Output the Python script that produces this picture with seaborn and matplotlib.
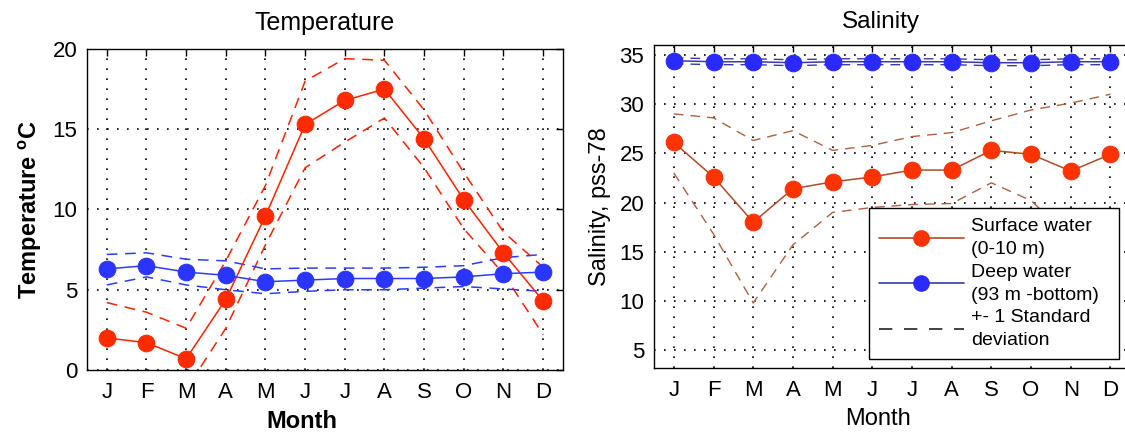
import numpy as np
import pandas as pd
import seaborn as sns
import matplotlib
matplotlib.use('Agg')
import matplotlib.pyplot as plt
from matplotlib.lines import Line2D

# Monthly means and +-1 std lines
months = ['J', 'F', 'M', 'A', 'M', 'J', 'J', 'A', 'S', 'O', 'N', 'D']
month_no = list(range(1, 13))

temp_surface = [2.0, 1.7, 0.7, 4.4, 9.6, 15.3, 16.8, 17.5, 14.4, 10.6, 7.3, 4.3]
temp_surface_hi = [4.2, 3.6, 2.6, 6.8, 11.5, 18.0, 19.4, 19.3, 16.2, 12.3, 8.6, 6.4]
temp_surface_lo = [-0.2, -0.1, -1.2, 2.6, 7.8, 12.6, 14.2, 15.7, 12.6, 8.8, 6.0, 2.2]

temp_deep = [6.3, 6.5, 6.1, 5.9, 5.5, 5.6, 5.7, 5.7, 5.7, 5.8, 6.0, 6.1]
temp_deep_hi = [7.2, 7.3, 6.9, 6.8, 6.3, 6.35, 6.35, 6.35, 6.4, 6.5, 7.0, 7.2]
temp_deep_lo = [5.3, 5.8, 5.3, 5.0, 4.75, 4.9, 5.0, 5.0, 5.1, 5.2, 5.05, 4.9]

sal_surface = [26.1, 22.6, 18.0, 21.4, 22.1, 22.6, 23.3, 23.3, 25.3, 24.9, 23.2, 24.9]
sal_surface_hi = [29.0, 28.6, 26.3, 27.3, 25.3, 25.8, 26.7, 27.1, 28.3, 29.4, 30.1, 31.0]
sal_surface_lo = [23.0, 16.8, 9.8, 15.7, 19.0, 19.5, 19.8, 19.9, 22.0, 20.2, 16.4, 18.8]

sal_deep = [34.4, 34.3, 34.3, 34.2, 34.3, 34.3, 34.3, 34.3, 34.2, 34.2, 34.3, 34.3]
sal_deep_hi = [34.7, 34.6, 34.6, 34.5, 34.6, 34.6, 34.6, 34.6, 34.5, 34.5, 34.6, 34.6]
sal_deep_lo = [34.1, 34.0, 34.0, 33.9, 34.0, 34.0, 34.0, 34.0, 33.9, 33.9, 34.0, 34.0]

df_temp = pd.DataFrame({'month': month_no,
                        'surface': temp_surface, 'surface_hi': temp_surface_hi, 'surface_lo': temp_surface_lo,
                        'deep': temp_deep, 'deep_hi': temp_deep_hi, 'deep_lo': temp_deep_lo})
df_sal = pd.DataFrame({'month': month_no,
                       'surface': sal_surface, 'surface_hi': sal_surface_hi, 'surface_lo': sal_surface_lo,
                       'deep': sal_deep, 'deep_hi': sal_deep_hi, 'deep_lo': sal_deep_lo})

sns.set_style('white', rc={'text.color': 'black', 'axes.labelcolor': 'black',
                           'xtick.color': 'black', 'ytick.color': 'black',
                           'axes.edgecolor': 'black'})
plt.rcParams['font.family'] = ['Liberation Sans', 'DejaVu Sans']
plt.rcParams['mathtext.fontset'] = 'custom'
plt.rcParams['mathtext.rm'] = 'Liberation Sans'
plt.rcParams['mathtext.bf'] = 'Liberation Sans:bold'

fig = plt.figure(figsize=(11.25, 4.36), dpi=100)
ax1 = fig.add_axes([0.0773, 0.1514, 0.4231, 0.7362])
ax2 = fig.add_axes([0.5813, 0.156, 0.4587, 0.7408])

dash = (0, (7, 5))
msize = 12

# Temperature
red, blue = '#ff2200', '#2a3cff'
for col in ['surface_hi', 'surface_lo']:
    sns.lineplot(data=df_temp, x='month', y=col, ax=ax1, color=red, lw=1.1, linestyle=dash)
for col in ['deep_hi', 'deep_lo']:
    sns.lineplot(data=df_temp, x='month', y=col, ax=ax1, color=blue, lw=1.1, linestyle=dash)
sns.lineplot(data=df_temp, x='month', y='surface', ax=ax1, color=red, lw=1.1,
             marker='o', markersize=msize, markerfacecolor='#ff2a00', markeredgecolor='#ff2a00')
sns.lineplot(data=df_temp, x='month', y='deep', ax=ax1, color=blue, lw=1.1,
             marker='o', markersize=msize, markerfacecolor='#2a35ff', markeredgecolor='#2a35ff')
ax1.set_xlim(0.5, 12.5)
ax1.set_ylim(0, 20)
ax1.set_yticks([0, 5, 10, 15, 20])
ax1.set_title('Temperature', fontsize=18, pad=14)
ax1.set_xlabel('Month', fontsize=17, fontweight='bold', labelpad=5, x=0.452)
ax1.set_ylabel(r'Temperature $^{\mathbf{o}}$C', fontsize=17, fontweight='bold', labelpad=6)

# Salinity
brown, dblue = '#b04a2a', '#3a3aa8'
for col in ['surface_hi', 'surface_lo']:
    sns.lineplot(data=df_sal, x='month', y=col, ax=ax2, color='#b06040', lw=1.0, linestyle=dash)
for col in ['deep_hi', 'deep_lo']:
    sns.lineplot(data=df_sal, x='month', y=col, ax=ax2, color=dblue, lw=1.0, linestyle=dash)
sns.lineplot(data=df_sal, x='month', y='surface', ax=ax2, color=brown, lw=1.1,
             marker='o', markersize=msize, markerfacecolor='#ff3300', markeredgecolor='#ff3300')
sns.lineplot(data=df_sal, x='month', y='deep', ax=ax2, color=dblue, lw=1.1,
             marker='o', markersize=msize, markerfacecolor='#2a2aff', markeredgecolor='#2a2aff')
ax2.set_xlim(0.5, 13.5)
ax2.set_ylim(3.2, 36)
ax2.set_yticks([5, 10, 15, 20, 25, 30, 35])
ax2.set_title('Salinity', fontsize=17.5, pad=12, x=0.44)
ax2.set_xlabel('Month', fontsize=17, labelpad=5, x=0.434)
ax2.set_ylabel('Salinity, pss-78', fontsize=17, labelpad=6)

for ax in (ax1, ax2):
    ax.set_xticks(month_no)
    ax.set_xticklabels(months)
    ax.tick_params(direction='in', top=True, right=True, length=5, width=1,
                   labelsize=16, colors='black')
    ax.tick_params(axis='x', pad=9)
    ax.tick_params(axis='y', pad=7)
    ax.grid(True, color='black', linestyle=(0, (1, 5)), linewidth=1.2)
    for s in ax.spines.values():
        s.set_color('black')
        s.set_linewidth(1.0)

handles = [
    Line2D([], [], color=brown, lw=1.2, marker='o', markersize=11,
           markerfacecolor='#ff3300', markeredgecolor='#ff3300'),
    Line2D([], [], color=dblue, lw=1.2, marker='o', markersize=11,
           markerfacecolor='#2a2aff', markeredgecolor='#2a2aff'),
    Line2D([], [], color='#222222', lw=1.2, linestyle=(0, (8, 7))),
]
labels = ['Surface water\n(0-10 m)', 'Deep water\n(93 m -bottom)', '+- 1 Standard\ndeviation']
leg = ax2.legend(handles, labels, loc='lower left', bbox_to_anchor=(0.4167, 0.028, 0.485, 0.47),
                 mode='expand', borderaxespad=0,
                 fontsize=14, handlelength=4.4, labelspacing=0.3, borderpad=0.5,
                 handletextpad=0.35, fancybox=False, framealpha=1, edgecolor='black')
for t in leg.get_texts():
    t.set_linespacing(1.45)
leg.get_frame().set_linewidth(1.0)

fig.savefig('out.png', dpi=100)
